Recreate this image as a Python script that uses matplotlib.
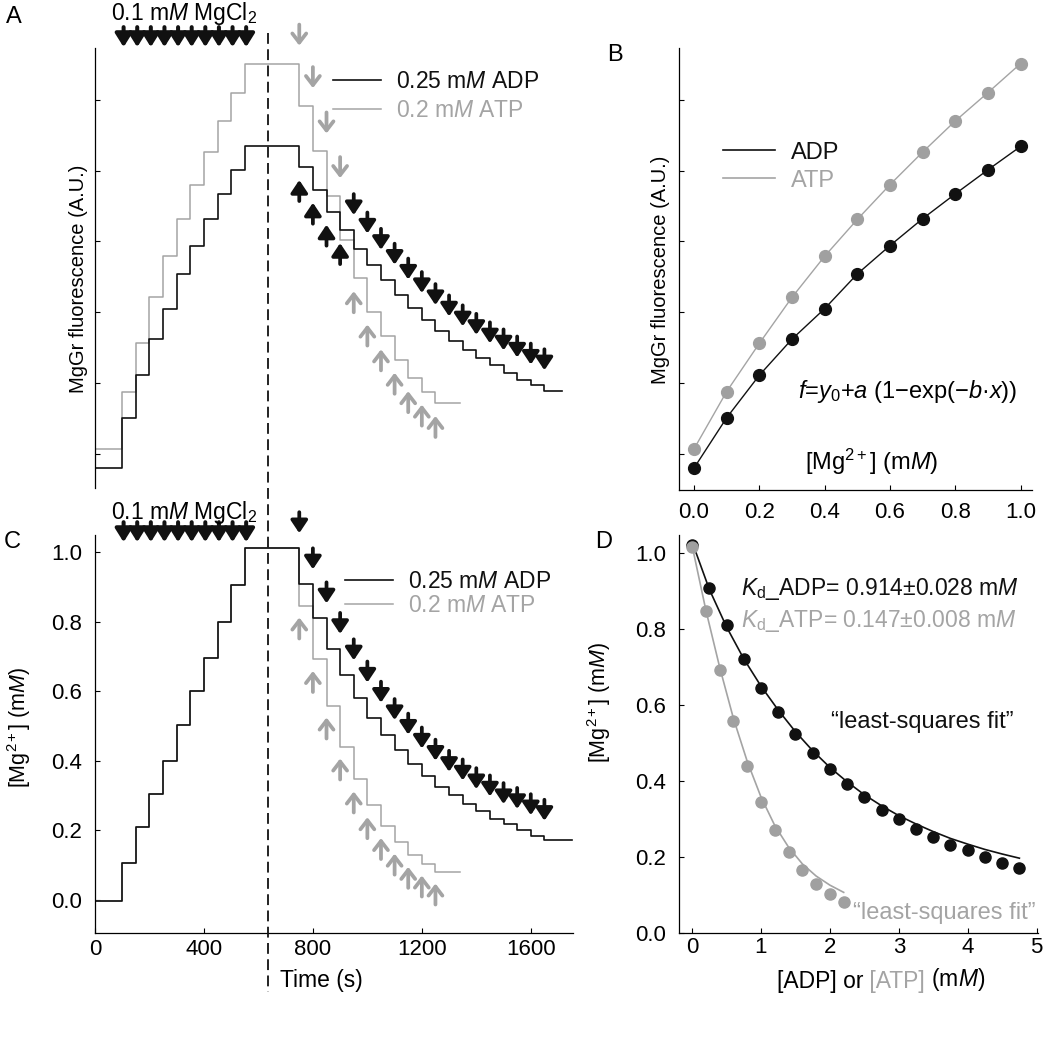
"""
MgGr titration figure: fluorescence traces (A), calibration (B),
[Mg2+] traces (C) and ADP/ATP binding curves (D)
"""
import matplotlib
matplotlib.use('Agg')
import matplotlib.pyplot as plt
from matplotlib.transforms import offset_copy, blended_transform_factory
from matplotlib.lines import Line2D

plt.rcParams['font.family'] = ['Liberation Sans', 'DejaVu Sans']
plt.rcParams['mathtext.fontset'] = 'custom'
plt.rcParams['mathtext.rm'] = 'Liberation Sans'
plt.rcParams['mathtext.it'] = 'Liberation Sans:italic'
plt.rcParams['mathtext.bf'] = 'Liberation Sans:bold'

BLACK = '#111111'
GREY = '#a4a4a4'

# ---- data -------------------------------------------------------------
# addition times (s)
mg_add_t = [100, 150, 200, 250, 300, 350, 400, 450, 500, 550]
adp_add_t = [750, 800, 850, 900, 950, 1000, 1050, 1100, 1150, 1200,
             1250, 1300, 1350, 1400, 1450, 1500, 1550, 1600, 1650]
atp_add_t = [750, 800, 850, 900, 950, 1000, 1050, 1100, 1150, 1200, 1250]
adp_end_a = 1713
adp_end_c = 1750
atp_end = 1340

# panel B (= rising part of panel A)
mg_conc = [0.0, 0.1, 0.2, 0.3, 0.4, 0.5, 0.6, 0.7, 0.8, 0.9, 1.0]
fl_adp = [0.80, 1.51, 2.11, 2.62, 3.05, 3.54, 3.94, 4.32, 4.67, 5.01, 5.34]
fl_atp = [1.07, 1.88, 2.56, 3.21, 3.79, 4.31, 4.80, 5.26, 5.70, 6.10, 6.51]

# panel A, falling part (nucleotide additions)
fl_adp_fall = [5.05, 4.73, 4.42, 4.16, 3.90, 3.67, 3.46, 3.25, 3.06, 2.89,
               2.73, 2.59, 2.47, 2.35, 2.25, 2.15, 2.05, 1.97, 1.89]
fl_atp_fall = [5.91, 5.27, 4.64, 4.02, 3.48, 3.01, 2.66, 2.33, 2.07, 1.88, 1.72]

# panel C, rising part
mg_rise = [-0.005, 0.105, 0.21, 0.305, 0.40, 0.503, 0.602, 0.697, 0.80, 0.906, 1.012]

# panel D
adp_conc = [0.0, 0.25, 0.5, 0.75, 1.0, 1.25, 1.5, 1.75, 2.0, 2.25,
            2.5, 2.75, 3.0, 3.25, 3.5, 3.75, 4.0, 4.25, 4.5, 4.75]
mg_adp = [1.022, 0.908, 0.810, 0.722, 0.646, 0.582, 0.524, 0.474, 0.432, 0.392,
          0.357, 0.325, 0.300, 0.275, 0.254, 0.232, 0.218, 0.200, 0.184, 0.171]
atp_conc = [0.0, 0.2, 0.4, 0.6, 0.8, 1.0, 1.2, 1.4, 1.6, 1.8, 2.0, 2.2]
mg_atp = [1.016, 0.847, 0.693, 0.559, 0.441, 0.346, 0.272, 0.212, 0.167, 0.129, 0.104, 0.081]

# least-squares fit curves
fit_adp_x = [0.0, 0.25, 0.5, 0.75, 1.0, 1.25, 1.5, 1.75, 2.0, 2.25,
             2.5, 2.75, 3.0, 3.25, 3.5, 3.75, 4.0, 4.25, 4.5, 4.75]
fit_adp_y = [1.030, 0.905, 0.806, 0.722, 0.650, 0.587, 0.530, 0.480, 0.436, 0.398,
             0.364, 0.335, 0.309, 0.287, 0.267, 0.249, 0.234, 0.220, 0.208, 0.197]
fit_atp_x = [0.0, 0.2, 0.4, 0.6, 0.8, 1.0, 1.2, 1.4, 1.6, 1.8, 2.0, 2.2]
fit_atp_y = [1.020, 0.850, 0.700, 0.565, 0.452, 0.358, 0.283, 0.226, 0.182, 0.150, 0.126, 0.107]

PT = 0.72  # points per pixel at dpi 100
FS = 16.5  # annotation text size

fig = plt.figure(figsize=(10.43, 10.5), dpi=100)
W, H = 1043, 1050


def px_axes(left, top, right, bottom):
    return fig.add_axes([left / W, 1 - bottom / H, (right - left) / W, (bottom - top) / H])


axA = px_axes(95, 48, 573, 488)
axB = px_axes(679, 48, 1032, 490)
axC = px_axes(95, 535, 573, 933)
axD = px_axes(679, 535, 1038, 933)

for ax in (axA, axB, axC, axD):
    for s in ('top', 'right'):
        ax.spines[s].set_visible(False)
    for s in ('left', 'bottom'):
        ax.spines[s].set_linewidth(0.9)
    ax.tick_params(direction='in', length=3.6, width=0.8, labelsize=16)
axA.spines['bottom'].set_visible(False)


def arrow(ax, t, level, direction, color, filled, gap_px):
    if direction == 'down':
        tip, tail = gap_px * PT, 21 * PT
    else:
        tip, tail = -gap_px * PT, -21 * PT
    if filled:
        style = '-|>,head_length=0.75,head_width=0.5'
    else:
        style = '->,head_length=0.65,head_width=0.5'
    ax.annotate('', xy=(t, level),
                xycoords=offset_copy(ax.transData, fig=fig, x=0, y=tip, units='points'),
                xytext=(0, tail), textcoords='offset points',
                arrowprops=dict(arrowstyle=style, color=color, lw=2.7,
                                shrinkA=0, shrinkB=0, mutation_scale=10),
                annotation_clip=False)


def mg_arrows(ax, y_frac, text_off_px):
    for t in mg_add_t:
        ax.annotate('', xy=(t + 5, y_frac), xycoords=('data', 'axes fraction'),
                    xytext=(0, 20 * PT), textcoords='offset points',
                    arrowprops=dict(arrowstyle='-|>,head_length=0.8,head_width=0.5',
                                    color=BLACK, lw=2.9, shrinkA=0, shrinkB=0,
                                    mutation_scale=10),
                    annotation_clip=False)
    ax.annotate('0.1 m$M$ MgCl$_2$', xy=(327, y_frac), xycoords=('data', 'axes fraction'),
                xytext=(0, text_off_px * PT), textcoords='offset points',
                ha='center', va='center', fontsize=FS, annotation_clip=False)


# ---- A ----------------------------------------------------------------
tA_adp = [0] + mg_add_t + adp_add_t + [adp_end_a]
yA_adp = fl_adp + fl_adp_fall + [fl_adp_fall[-1]]
tA_atp = [0] + mg_add_t + atp_add_t + [atp_end]
yA_atp = fl_atp + fl_atp_fall + [fl_atp_fall[-1]]
lA_atp, = axA.step(tA_atp, yA_atp, where='post', color=GREY, lw=1.1)
lA_adp, = axA.step(tA_adp, yA_adp, where='post', color=BLACK, lw=1.2)
axA.set_xlim(0, 1755)
axA.set_ylim(0.52, 6.73)
axA.set_xticks([])
axA.set_yticks([1, 2, 3, 4, 5, 6])
axA.set_yticklabels([])
axA.set_ylabel('MgGr fluorescence (A.U.)', fontsize=14.5)
axA.yaxis.set_label_coords(-0.015, 0.476)

pre = [fl_adp[-1]] + fl_adp_fall[:-1]
for i, t in enumerate(adp_add_t):
    if i < 4:
        arrow(axA, t, fl_adp_fall[i], 'up', BLACK, True, 13)
    else:
        arrow(axA, t, pre[i], 'down', BLACK, True, 15)
pre = [fl_atp[-1]] + fl_atp_fall[:-1]
for i, t in enumerate(atp_add_t):
    if i < 4:
        arrow(axA, t, pre[i], 'down', GREY, False, 18)
    else:
        arrow(axA, t, fl_atp_fall[i], 'up', GREY, False, 13)
mg_arrows(axA, 1.002, 34)

axA.legend([lA_adp, lA_atp], ['0.25 m$M$ ADP', '0.2 m$M$ ATP'], frameon=False,
           loc='upper left', bbox_to_anchor=(0.498, 0.949), borderaxespad=0,
           borderpad=0, handlelength=2.1, handletextpad=0.65, labelspacing=0.25,
           fontsize=FS, labelcolor='linecolor')

# ---- B ----------------------------------------------------------------
axB.plot(mg_conc, fl_adp, '-o', color=BLACK, lw=1.0, ms=8.5)
axB.plot(mg_conc, fl_atp, '-o', color=GREY, lw=1.0, ms=8.5,
         mfc='#a0a0a0', mec='#a0a0a0')
axB.set_xlim(-0.046, 1.035)
axB.set_ylim(0.49, 6.73)
axB.set_xticks(mg_conc[::2])
axB.set_xticklabels([f'{v:.1f}' for v in mg_conc[::2]])
axB.set_yticks([1, 2, 3, 4, 5, 6])
axB.set_yticklabels([])
axB.tick_params(axis='x', pad=9)
axB.set_ylabel('MgGr fluorescence (A.U.)', fontsize=14.5)
axB.yaxis.set_label_coords(-0.026, 0.498)
axB.text(0.546, 0.063, '[Mg$^{2+}$] (m$M$)', transform=axB.transAxes,
         ha='center', va='center', fontsize=17)
axB.text(0.648, 0.222, '$f$=$y_0$+$a$ (1\u2212exp(\u2212$b$\u00b7$x$))',
         transform=axB.transAxes, ha='center', va='center', fontsize=17)
hB = [Line2D([], [], color=BLACK, lw=1.2), Line2D([], [], color=GREY, lw=1.2)]
axB.legend(hB, ['ADP', 'ATP'], frameon=False, loc='upper left',
           bbox_to_anchor=(0.124, 0.788), borderaxespad=0, borderpad=0,
           handlelength=2.2, handletextpad=0.7, labelspacing=0.25,
           fontsize=17, labelcolor='linecolor')

# ---- C ----------------------------------------------------------------
tC_adp = [0] + mg_add_t + adp_add_t + [adp_end_c]
yC_adp = mg_rise + mg_adp[1:] + [mg_adp[-1]]
tC_atp = [0] + mg_add_t + atp_add_t + [atp_end]
yC_atp = mg_rise + mg_atp[1:] + [mg_atp[-1]]
lC_atp, = axC.step(tC_atp, yC_atp, where='post', color=GREY, lw=1.1)
lC_adp, = axC.step(tC_adp, yC_adp, where='post', color=BLACK, lw=1.2)
axC.set_xlim(0, 1755)
axC.set_ylim(-0.096, 1.05)
axC.set_xticks([0, 400, 800, 1200, 1600])
axC.set_yticks([0.0, 0.2, 0.4, 0.6, 0.8, 1.0])
axC.set_yticklabels([f'{v:.1f}' for v in [0.0, 0.2, 0.4, 0.6, 0.8, 1.0]])
axC.tick_params(axis='y', pad=9)
axC.tick_params(axis='x', pad=4.5)
axC.set_ylabel('[Mg$^{2+}$] (m$M$)', fontsize=15.5)
axC.yaxis.set_label_coords(-0.13, 0.518)
axC.set_xlabel('Time (s)', fontsize=16.5)
axC.xaxis.set_label_coords(0.474, -0.09)

pre = [mg_rise[-1]] + mg_adp[1:-1]
for i, t in enumerate(adp_add_t):
    arrow(axC, t, pre[i], 'down', BLACK, True, 15)
for i, t in enumerate(atp_add_t):
    arrow(axC, t, mg_atp[i + 1], 'up', GREY, False, 12)
mg_arrows(axC, 0.982, 30)

axC.legend([lC_adp, lC_atp], ['0.25 m$M$ ADP', '0.2 m$M$ ATP'], frameon=False,
           loc='upper left', bbox_to_anchor=(0.523, 0.913), borderaxespad=0,
           borderpad=0, handlelength=2.1, handletextpad=0.65, labelspacing=0.08,
           fontsize=FS, labelcolor='linecolor')

# vertical dashed line through A and C
trans = blended_transform_factory(axC.transData, fig.transFigure)
fig.add_artist(Line2D([635, 635], [1 - 33 / H, 1 - 992 / H], transform=trans,
                      color=BLACK, lw=1.3, ls=(0, (6, 3))))

# ---- D ----------------------------------------------------------------
axD.plot(fit_adp_x, fit_adp_y, color=BLACK, lw=1.2)
axD.plot(fit_atp_x, fit_atp_y, color=GREY, lw=1.2)
axD.plot(adp_conc, mg_adp, 'o', color=BLACK, ms=8)
axD.plot(atp_conc, mg_atp, 'o', color='#a0a0a0', ms=8)
axD.set_xlim(-0.19, 5.02)
axD.set_ylim(0.0, 1.048)
axD.set_xticks([0, 1, 2, 3, 4, 5])
axD.set_yticks([0.0, 0.2, 0.4, 0.6, 0.8, 1.0])
axD.set_yticklabels([f'{v:.1f}' for v in [0.0, 0.2, 0.4, 0.6, 0.8, 1.0]])
axD.tick_params(axis='y', pad=9)
axD.tick_params(axis='x', pad=3)
axD.set_ylabel('[Mg$^{2+}$] (m$M$)', fontsize=15.5)
axD.yaxis.set_label_coords(-0.185, 0.58)

axD.text(0.174, 0.849, '$K_{\\rm d}$_ADP= 0.914\u00b10.028 m$M$', transform=axD.transAxes,
         ha='left', va='baseline', fontsize=FS, color=BLACK)
axD.text(0.174, 0.769, '$K_{\\rm d}$_ATP= 0.147\u00b10.008 m$M$', transform=axD.transAxes,
         ha='left', va='baseline', fontsize=FS, color=GREY)
axD.text(0.678, 0.53, '\u201cleast-squares fit\u201d', transform=axD.transAxes,
         ha='center', va='center', fontsize=17, color=BLACK)
axD.text(0.74, 0.05, '\u201cleast-squares fit\u201d', transform=axD.transAxes,
         ha='center', va='center', fontsize=17, color=GREY)

# multi-coloured x label
t1 = axD.text(0.272, -0.137, '[ADP] or', transform=axD.transAxes,
              ha='left', va='baseline', fontsize=16.5)
t2 = axD.annotate(' [ATP]', xy=(1, 0), xycoords=t1, ha='left', va='bottom',
                  fontsize=16.5, color=GREY)
axD.annotate(' (m$M$)', xy=(1, 0), xycoords=t2, ha='left', va='bottom', fontsize=16.5)

# panel letters
for lab, x, y in (('A', 14, 17), ('B', 615, 55), ('C', 12, 542), ('D', 604, 542)):
    fig.text(x / W, 1 - y / H, lab, ha='center', va='center', fontsize=17)

fig.savefig('out.png', dpi=100)
